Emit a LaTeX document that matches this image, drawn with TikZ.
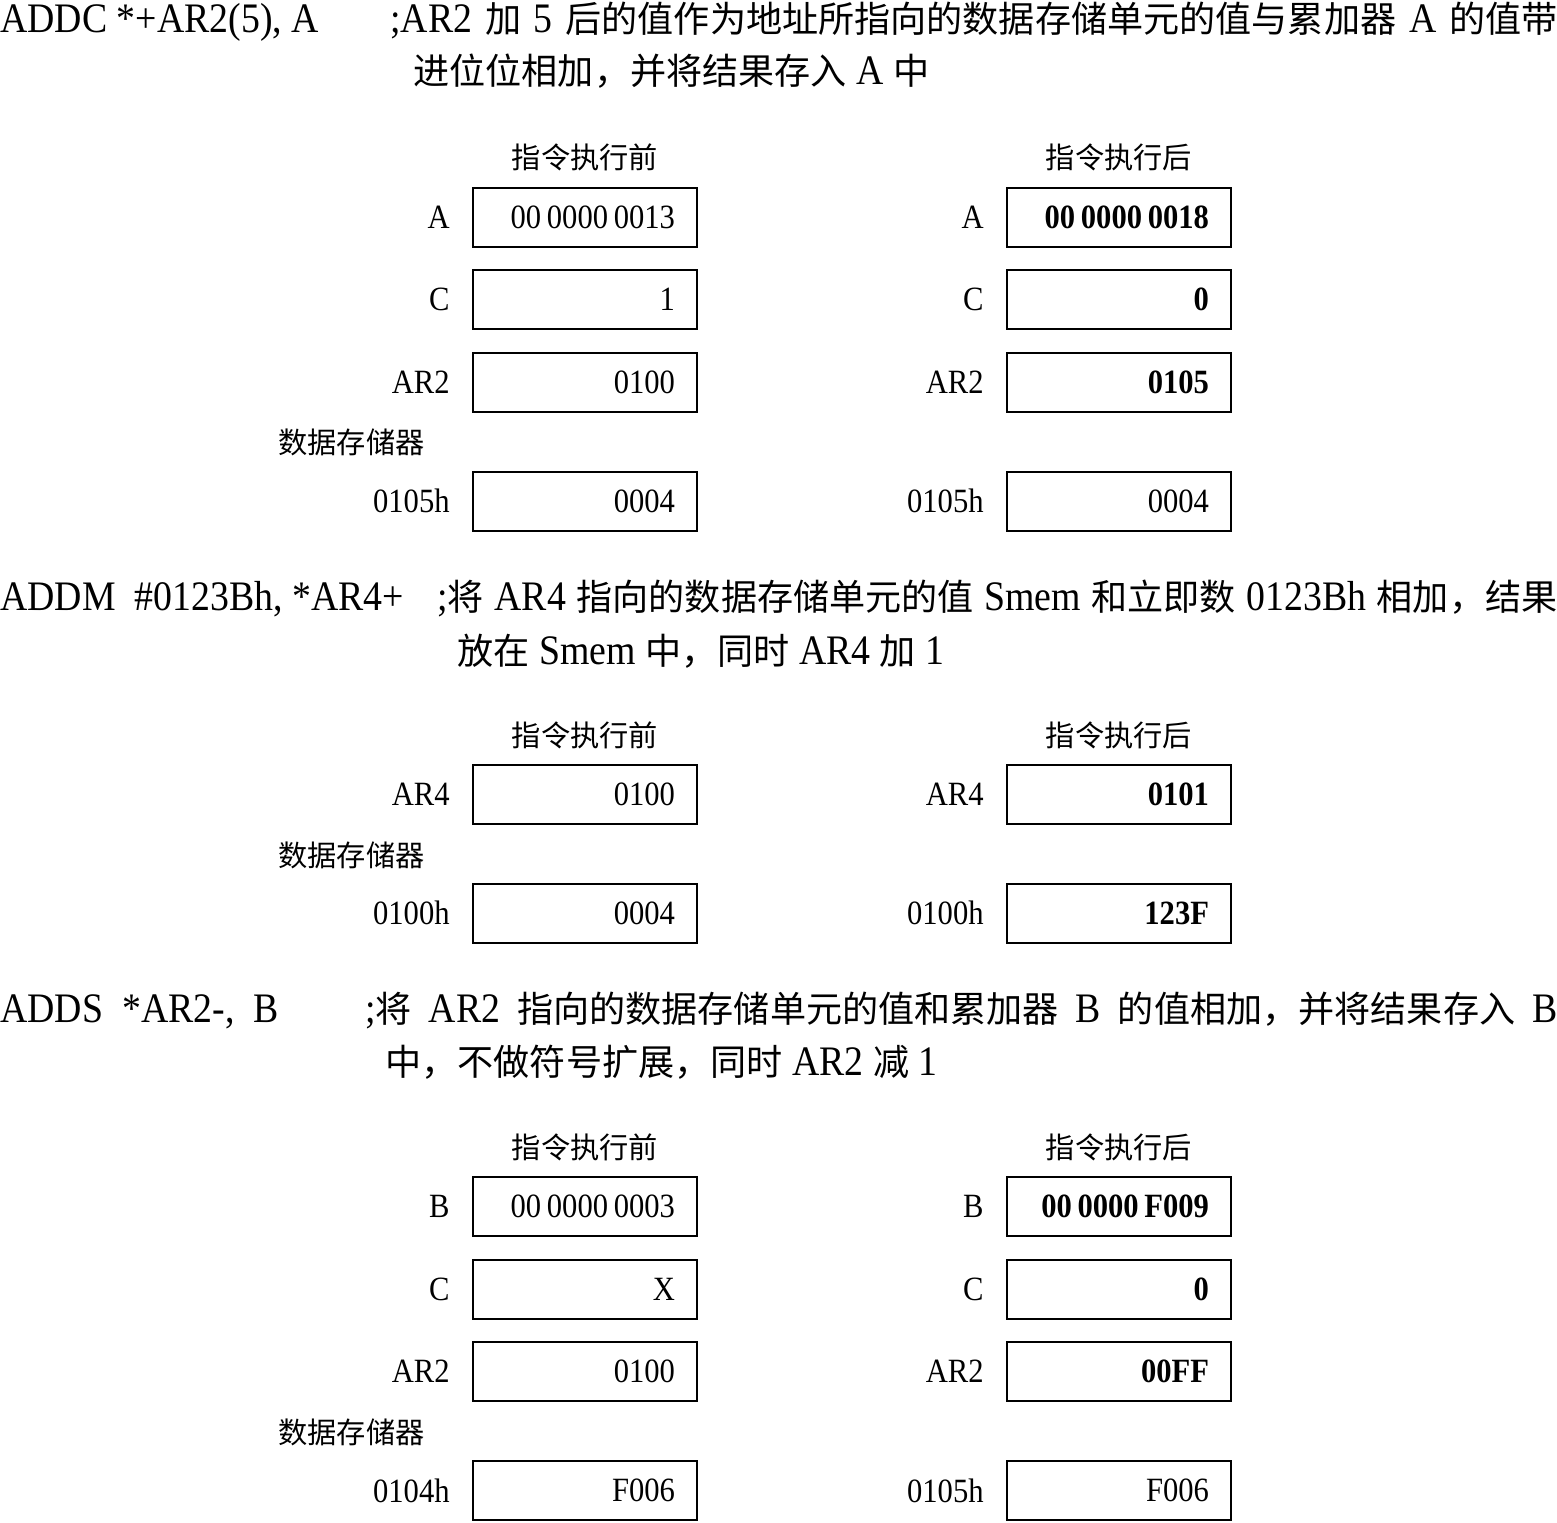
\documentclass[tikz,border=0pt]{standalone}
\usepackage{fontspec}
\setmainfont{Liberation Serif}[FakeStretch=0.9]
\newfontfamily\cjk{Noto Sans CJK SC}[Scale=0.86]
\newcommand{\zh}[1]{{\cjk #1}}
\usetikzlibrary{positioning}

\begin{document}
\begin{tikzpicture}[x=0.5pt, y=-0.5pt,
      instr/.style={anchor=base west, inner sep=0, font=\fontsize{21}{25}\selectfont},
      regbox/.style={rectangle, draw, line width=1pt, minimum width=112pt, minimum height=29.5pt, inner xsep=11pt, text width=90pt, align=right, font=\fontsize{17}{20}\selectfont},
      lbl/.style={inner sep=0, font=\fontsize{17}{20}\selectfont},
      hdr/.style={anchor=base, inner sep=0, font=\fontsize{17}{20}\selectfont\cjk},
    ]
      \useasboundingbox (0,0) rectangle (1557,1522);

      % ADDC
      \node[instr] (i1) at (0,32) {ADDC *+AR2(5), A};
      \node[instr] (c1a) at (390,32) {\makebox[583.5pt][s]{;AR2 \zh{加} 5 \zh{后的值作为地址所指向的数据存储单元的值与累加器} A \zh{的值带}}};
      \node[instr] (c1b) at (413,84) {\zh{进位位相加，并将结果存入} A \zh{中}};

      \node[hdr] (pre1) at (585,168) {指令执行前};
      \node[hdr] (post1) at (1119,168) {指令执行后};

      \node[regbox] (a1) at (585,217.5) {00\,0000\,0013};
      \node[regbox] (c1) at (585,299.5) {1};
      \node[regbox] (ar1) at (585,382.5) {0100};
      \node[regbox] (m1) at (585,501) {0004};
      \node[regbox] (a2) at (1119,217.5) {\textbf{00\,0000\,0018}};
      \node[regbox] (c2) at (1119,299.5) {\textbf{0}};
      \node[regbox] (ar2) at (1119,382.5) {\textbf{0105}};
      \node[regbox] (m2) at (1119,501) {0004};

      \node[lbl, left=11pt of a1] {A};
      \node[lbl, left=11pt of c1] {C};
      \node[lbl, left=11pt of ar1] {AR2};
      \node[lbl, left=11pt of m1] {0105h};
      \node[lbl, left=11pt of a2] {A};
      \node[lbl, left=11pt of c2] {C};
      \node[lbl, left=11pt of ar2] {AR2};
      \node[lbl, left=11pt of m2] {0105h};
      \node[hdr, anchor=base west] (mem1) at (278,453) {数据存储器};

      % ADDM
      \node[instr] (i2) at (0,610) {ADDM\ \ \#0123Bh, *AR4+};
      \node[instr] (c2a) at (437,610) {\makebox[560pt][s]{;\zh{将} AR4 \zh{指向的数据存储单元的值} Smem \zh{和立即数} 0123Bh \zh{相加，结果}}};
      \node[instr] (c2b) at (457,664) {\zh{放在} Smem \zh{中，同时} AR4 \zh{加} 1};

      \node[hdr] (pre2) at (585,746) {指令执行前};
      \node[hdr] (post2) at (1119,746) {指令执行后};

      \node[regbox] (ar3) at (585,794.5) {0100};
      \node[regbox] (m3) at (585,913) {0004};
      \node[regbox] (ar4) at (1119,794.5) {\textbf{0101}};
      \node[regbox] (m4) at (1119,913) {\textbf{123F}};

      \node[lbl, left=11pt of ar3] {AR4};
      \node[lbl, left=11pt of m3] {0100h};
      \node[lbl, left=11pt of ar4] {AR4};
      \node[lbl, left=11pt of m4] {0100h};
      \node[hdr, anchor=base west] (mem2) at (278,866) {数据存储器};

      % ADDS
      \node[instr] (i3) at (0,1022) {ADDS\ \ *AR2-,\ \ B};
      \node[instr] (c3a) at (365,1022) {\makebox[596pt][s]{;\zh{将} AR2 \zh{指向的数据存储单元的值和累加器} B \zh{的值相加，并将结果存入} B}};
      \node[instr] (c3b) at (385,1075) {\zh{中，不做符号扩展，同时} AR2 \zh{减} 1};

      \node[hdr] (pre3) at (585,1158) {指令执行前};
      \node[hdr] (post3) at (1119,1158) {指令执行后};

      \node[regbox] (b1) at (585,1206.5) {00\,0000\,0003};
      \node[regbox] (c3) at (585,1289.5) {X};
      \node[regbox] (ar5) at (585,1371.5) {0100};
      \node[regbox] (m5) at (585,1490.5) {F006};
      \node[regbox] (b2) at (1119,1206.5) {\textbf{00\,0000\,F009}};
      \node[regbox] (c4) at (1119,1289.5) {\textbf{0}};
      \node[regbox] (ar6) at (1119,1371.5) {\textbf{00FF}};
      \node[regbox] (m6) at (1119,1490.5) {F006};

      \node[lbl, left=11pt of b1] {B};
      \node[lbl, left=11pt of c3] {C};
      \node[lbl, left=11pt of ar5] {AR2};
      \node[lbl, left=11pt of m5] {0104h};
      \node[lbl, left=11pt of b2] {B};
      \node[lbl, left=11pt of c4] {C};
      \node[lbl, left=11pt of ar6] {AR2};
      \node[lbl, left=11pt of m6] {0105h};
      \node[hdr, anchor=base west] (mem3) at (278,1443) {数据存储器};
    \end{tikzpicture}
\end{document}
